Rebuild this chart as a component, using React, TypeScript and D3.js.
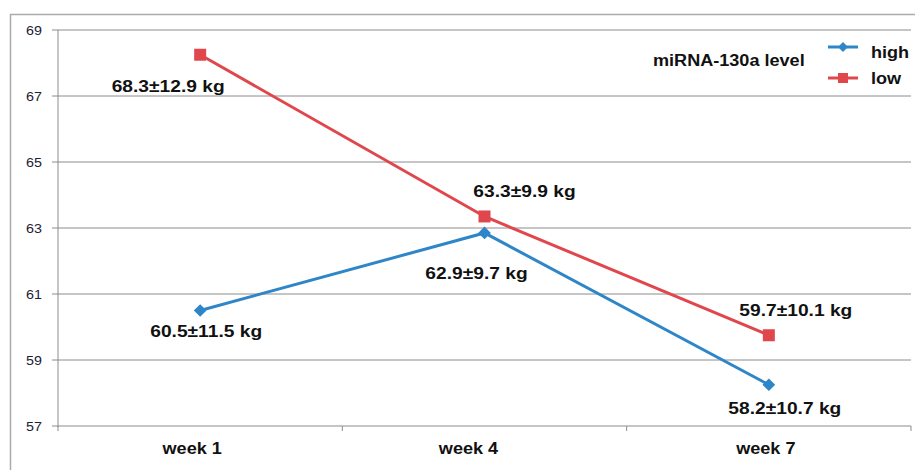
import React from "react";
import * as d3 from "d3";

const categories = ["week 1", "week 4", "week 7"];
const highValues = [60.5, 62.85, 58.25];
const lowValues = [68.25, 63.35, 59.75];
const highLabels = ["60.5±11.5 kg", "62.9±9.7 kg", "58.2±10.7 kg"];
const lowLabels = ["68.3±12.9 kg", "63.3±9.9 kg", "59.7±10.1 kg"];
const yTicks = [57, 59, 61, 63, 65, 67, 69];

// label offsets (px) relative to the point / category centre
const highOffsets = [[6, 26], [-8, 46], [16, 29]];
const lowOffsets = [[-32, 37], [40, -19], [27, -19]];
const catLabelDx = [-8, -16, -3];

const W = 915, H = 470;
const left = 58, right = 911, top = 30, bottom = 426;
const BLUE = "#2E86C8";
const RED = "#E0474C";
const SX = 1.13;

function T({ x, y, size, anchor = "start", weight = "bold", fill = "#111", sx = SX, children }: any) {
  return (
    <text transform={`translate(${x},${y}) scale(${sx},1)`} textAnchor={anchor}
      fontSize={size} fontWeight={weight} fill={fill}>{children}</text>
  );
}

export default function App() {
  const x = d3.scaleBand<string>().domain(categories).range([left, right]);
  const y = d3.scaleLinear().domain([57, 69]).range([bottom, top]);
  const cx = (c: string) => (x(c) as number) + x.bandwidth() / 2;
  const line = d3.line<number>().x((_, i) => cx(categories[i])).y((v) => y(v));
  const font = "'Liberation Sans', Arial, sans-serif";
  const boundaries = [...categories.map((c) => x(c) as number), right];

  return (
    <svg width={W} height={H} style={{ position: "absolute", left: 0, top: 0 }} fontFamily={font}>
      <rect x={10.5} y={14.5} width={W} height={H} fill="white" stroke="#ababab" strokeWidth={1.5} />
      {yTicks.map((t) => (
        <g key={t}>
          <line x1={left - 6} x2={right} y1={y(t)} y2={y(t)} stroke="#8c8c8c" strokeWidth={1} />
          <T x={42} y={y(t) + 4.5} size={13} anchor="end" weight="normal" fill="#1c2233" sx={1.1}>{t}</T>
        </g>
      ))}
      <line x1={left} x2={left} y1={top} y2={bottom + 1} stroke="#8c8c8c" />
      {boundaries.map((b, i) => (
        <line key={i} x1={b} x2={b} y1={bottom} y2={bottom + 5} stroke="#8c8c8c" />
      ))}
      {categories.map((c, i) => (
        <T key={c} x={cx(c) + catLabelDx[i]} y={bottom + 28} size={16} anchor="middle">{c}</T>
      ))}
      <path d={line(highValues) || ""} fill="none" stroke={BLUE} strokeWidth={3} />
      <path d={line(lowValues) || ""} fill="none" stroke={RED} strokeWidth={3} />
      {highValues.map((v, i) => {
        const px = cx(categories[i]), py = y(v);
        return (
          <rect key={i} x={px - 4.5} y={py - 4.5} width={9} height={9} fill={BLUE}
            transform={`rotate(45 ${px} ${py})`} />
        );
      })}
      {lowValues.map((v, i) => {
        const px = cx(categories[i]), py = y(v);
        return <rect key={i} x={px - 6} y={py - 6} width={12} height={12} fill={RED} />;
      })}
      {highValues.map((v, i) => (
        <T key={i} x={cx(categories[i]) + highOffsets[i][0]} y={y(v) + highOffsets[i][1]}
          size={17} anchor="middle">{highLabels[i]}</T>
      ))}
      {lowValues.map((v, i) => (
        <T key={i} x={cx(categories[i]) + lowOffsets[i][0]} y={y(v) + lowOffsets[i][1]}
          size={17} anchor="middle">{lowLabels[i]}</T>
      ))}
      <T x={653} y={66} size={16}>miRNA-130a level</T>
      <line x1={828} x2={858} y1={47} y2={47} stroke={BLUE} strokeWidth={3} />
      <rect x={843 - 3.5} y={47 - 3.5} width={7} height={7} fill={BLUE} transform={`rotate(45 843 47)`} />
      <T x={871} y={58} size={16}>high</T>
      <line x1={828} x2={858} y1={78} y2={78} stroke={RED} strokeWidth={3} />
      <rect x={843 - 5} y={78 - 5} width={10} height={10} fill={RED} />
      <T x={871} y={84} size={16}>low</T>
    </svg>
  );
}
